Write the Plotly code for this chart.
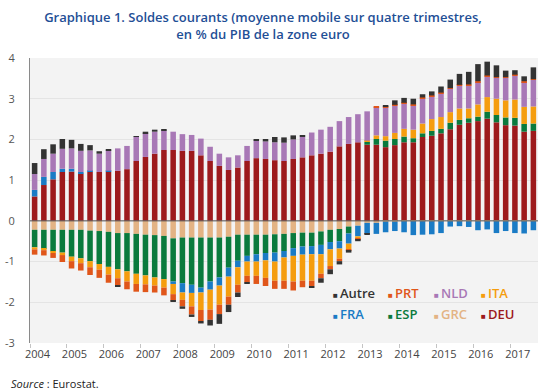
import plotly.graph_objects as go

# ---------------- data (share of euro-area GDP, 4-quarter moving average) ----------------
quarters = [f"{y} T{q}" for y in range(2004, 2018) for q in range(1, 5)][:55]
year_labels = ["2004", "2005", "2006", "2007", "2008", "2009", "2010",
               "2011", "2012", "2013", "2014", "2015", "2016", "2017"]
y_tick_values = [-3, -2, -1, 0, 1, 2, 3, 4]
y_tick_labels = ["-3", "-2", "-1", "0", "1", "2", "3", "4"]

deu = [0.60, 0.88, 1.02, 1.20, 1.21, 1.16, 1.21, 1.20, 1.21, 1.23, 1.27, 1.47, 1.57, 1.65,
       1.74, 1.74, 1.72, 1.72, 1.61, 1.47, 1.35, 1.25, 1.31, 1.47, 1.54, 1.52, 1.49, 1.47,
       1.52, 1.56, 1.61, 1.65, 1.70, 1.83, 1.89, 1.93, 1.87, 1.87, 1.81, 1.86, 1.93, 1.93,
       2.06, 2.09, 2.15, 2.25, 2.36, 2.41, 2.45, 2.51, 2.42, 2.35, 2.34, 2.19, 2.21]
grc = [-0.22, -0.22, -0.22, -0.22, -0.22, -0.22, -0.24, -0.25, -0.27, -0.30, -0.30, -0.32,
       -0.34, -0.35, -0.37, -0.43, -0.41, -0.41, -0.41, -0.41, -0.41, -0.39, -0.34, -0.34,
       -0.34, -0.34, -0.33, -0.32, -0.30, -0.29, -0.29, -0.26, -0.22, -0.20, -0.14, -0.12,
       -0.05, -0.05, -0.02, -0.02, -0.01, -0.01, -0.01, -0.01, -0.01, -0.01, -0.01, -0.01,
       -0.01, -0.01, -0.01, -0.01, -0.01, -0.01, -0.01]
esp = [-0.43, -0.47, -0.53, -0.56, -0.66, -0.70, -0.75, -0.81, -0.86, -0.89, -0.94, -0.98,
       -1.00, -1.04, -1.06, -1.06, -1.12, -1.16, -1.23, -1.08, -0.98, -0.76, -0.64, -0.52,
       -0.48, -0.45, -0.45, -0.42, -0.37, -0.34, -0.33, -0.33, -0.30, -0.30, -0.17, 0.00,
       0.07, 0.14, 0.16, 0.15, 0.14, 0.10, 0.09, 0.12, 0.11, 0.16, 0.12, 0.11, 0.11, 0.17,
       0.18, 0.19, 0.19, 0.19, 0.18]
fra = [0.16, 0.20, 0.18, 0.08, 0.07, 0.04, 0.02, 0.00, 0.02, 0.00, 0.00, 0.00, 0.00, 0.00,
       0.00, -0.06, -0.23, -0.20, -0.12, -0.20, -0.20, -0.22, -0.16, -0.14, -0.18, -0.18,
       -0.22, -0.16, -0.19, -0.20, -0.20, -0.23, -0.18, -0.18, -0.25, -0.26, -0.26, -0.27,
       -0.26, -0.23, -0.27, -0.34, -0.33, -0.32, -0.29, -0.13, -0.12, -0.14, -0.22, -0.20,
       -0.29, -0.24, -0.29, -0.30, -0.22]
ita = [-0.05, -0.03, -0.04, -0.06, -0.11, -0.12, -0.15, -0.14, -0.19, -0.22, -0.25, -0.25,
       -0.22, -0.20, -0.21, -0.25, -0.18, -0.33, -0.43, -0.49, -0.47, -0.49, -0.43, -0.35,
       -0.35, -0.43, -0.47, -0.57, -0.63, -0.64, -0.65, -0.48, -0.41, -0.25, -0.14, -0.06,
       0.03, 0.09, 0.11, 0.15, 0.19, 0.21, 0.24, 0.29, 0.29, 0.26, 0.28, 0.24, 0.30, 0.36,
       0.40, 0.42, 0.45, 0.42, 0.42]
nld = [0.39, 0.44, 0.45, 0.49, 0.50, 0.52, 0.50, 0.45, 0.50, 0.55, 0.57, 0.59, 0.58, 0.54,
       0.48, 0.45, 0.41, 0.39, 0.41, 0.35, 0.30, 0.31, 0.30, 0.37, 0.43, 0.43, 0.44, 0.45,
       0.48, 0.50, 0.56, 0.59, 0.61, 0.62, 0.66, 0.69, 0.72, 0.69, 0.71, 0.67, 0.62, 0.60,
       0.62, 0.56, 0.58, 0.57, 0.56, 0.57, 0.55, 0.51, 0.51, 0.55, 0.59, 0.61, 0.65]
prt = [-0.13, -0.13, -0.12, -0.17, -0.18, -0.18, -0.19, -0.20, -0.20, -0.18, -0.19, -0.19,
       -0.19, -0.17, -0.19, -0.16, -0.16, -0.20, -0.27, -0.25, -0.23, -0.20, -0.19, -0.16,
       -0.20, -0.20, -0.20, -0.20, -0.22, -0.16, -0.13, -0.11, -0.08, -0.06, -0.04, -0.03,
       -0.01, 0.02, 0.02, 0.02, 0.02, 0.02, 0.02, 0.02, 0.02, 0.02, 0.02, 0.02, 0.02, 0.02,
       0.02, 0.02, 0.02, 0.02, 0.02]
autre = [0.27, 0.24, 0.23, 0.24, 0.21, 0.17, 0.13, 0.06, 0.02, -0.03, 0.00, 0.02, 0.04, 0.05,
         0.03, -0.02, -0.06, -0.06, -0.06, -0.14, -0.24, -0.18, -0.11, -0.03, 0.02, 0.06,
         0.13, 0.13, 0.10, 0.03, -0.04, -0.11, -0.12, -0.08, -0.04, -0.03, -0.02, 0.00, 0.02,
         0.11, 0.12, 0.14, 0.08, 0.10, 0.15, 0.21, 0.27, 0.31, 0.42, 0.34, 0.29, 0.16, 0.11,
         0.12, 0.29]

# stacking order (from zero outward) and colours
series = [
    ("DEU", deu, "#9d1a1c"),
    ("GRC", grc, "#e3b384"),
    ("ESP", esp, "#0a7a3d"),
    ("FRA", fra, "#1a7bc5"),
    ("ITA", ita, "#f59d0e"),
    ("NLD", nld, "#a878b6"),
    ("PRT", prt, "#e0561a"),
    ("Autre", autre, "#333333"),
]
legend_rows = [["Autre", "PRT", "NLD", "ITA"], ["FRA", "ESP", "GRC", "DEU"]]
legend_text_colors = {"Autre": "#333333", "PRT": "#e0561a", "NLD": "#a878b6", "ITA": "#f59d0e",
                      "FRA": "#1a7bc5", "ESP": "#0a7a3d", "GRC": "#e3b384", "DEU": "#9d1a1c"}

FONT = "Open Sans"
x = list(range(len(quarters)))

fig = go.Figure()
for name, vals, color in series:
    fig.add_trace(go.Bar(
        x=x, y=vals, name=name,
        marker=dict(color=color, line=dict(width=0)),
        customdata=quarters,
        hovertemplate="%{customdata}<br>" + name + " : %{y:.2f}<extra></extra>",
        showlegend=False,
    ))

W, H = 550, 392
ML, MR, MT, MB = 30, 12, 58, 49
pw, ph = W - ML - MR, H - MT - MB

def px_to_paper(px, py):
    return (px - ML) / pw, (H - MB - py) / ph

# legend built as text annotations (tight marker/label layout of the original)
annotations = []
col_px = [331, 386, 432, 479]
row_py = [293, 314]
for r, row in enumerate(legend_rows):
    for c, name in enumerate(row):
        ax, ay = px_to_paper(col_px[c], row_py[r])
        col = legend_text_colors[name]
        annotations.append(dict(
            xref="paper", yref="paper", x=ax, y=ay, xanchor="left", yanchor="middle",
            text=f"<span style='font-size:8px'>■</span>\u2009{name}",
            showarrow=False,
            font=dict(family=FONT, size=13, color=col, weight=600),
        ))

annotations.append(dict(
    xref="paper", yref="paper", x=px_to_paper(9, 0)[0], y=px_to_paper(0, 383)[1],
    xanchor="left", yanchor="middle", showarrow=False,
    text="<i>Source</i> : Eurostat.",
    font=dict(family=FONT, size=11, color="#222222"),
))

fig.update_layout(
    width=W, height=H,
    margin=dict(l=ML, r=MR, t=MT, b=MB),
    barmode="relative", bargap=0.4,
    plot_bgcolor="#f3f3f3", paper_bgcolor="white",
    font=dict(family=FONT, size=11, color="#444444"),
    title=dict(
        text="Graphique 1. Soldes courants (moyenne mobile sur quatre trimestres,<br>en % du PIB de la zone euro",
        x=263 / W, xanchor="center", xref="container",
        y=1 - 22 / H, yanchor="top", yref="container",
        font=dict(family=FONT, size=13, color="#1f4f96", weight=600),
    ),
    xaxis=dict(
        range=[-0.5, len(quarters) - 0.5],
        tickmode="array",
        tickvals=[0.31 + 4 * k for k in range(len(year_labels))],
        ticktext=year_labels,
        ticks="", showgrid=False, zeroline=False, showline=False,
        tickfont=dict(family=FONT, size=11, color="#444444"),
        ticklabelstandoff=3, automargin=False,
        minor=dict(tickmode="array", tickvals=[-0.5 + 4 * k for k in range(len(year_labels))],
                   ticks="outside", ticklen=4, tickcolor="#c4c4c4", tickwidth=1, showgrid=False),
    ),
    yaxis=dict(
        range=[-3, 4], tickmode="array", tickvals=y_tick_values, ticktext=y_tick_labels,
        showgrid=True, gridcolor="#e4e4e4", gridwidth=1,
        zeroline=False, showline=True, linecolor="#8a8a8a", linewidth=1,
        ticks="", tickfont=dict(family=FONT, size=11, color="#555555"),
        ticklabelstandoff=12, automargin=False,
    ),
    shapes=[dict(type="line", xref="paper", yref="y", x0=0, x1=1, y0=0, y1=0,
                 line=dict(color="#555555", width=1), layer="above")],
    annotations=annotations,
)

fig.write_html(
    "out.html",
    config={"displayModeBar": False},
    post_script="document.body.style.margin='0';document.body.style.overflow='hidden';",
)
